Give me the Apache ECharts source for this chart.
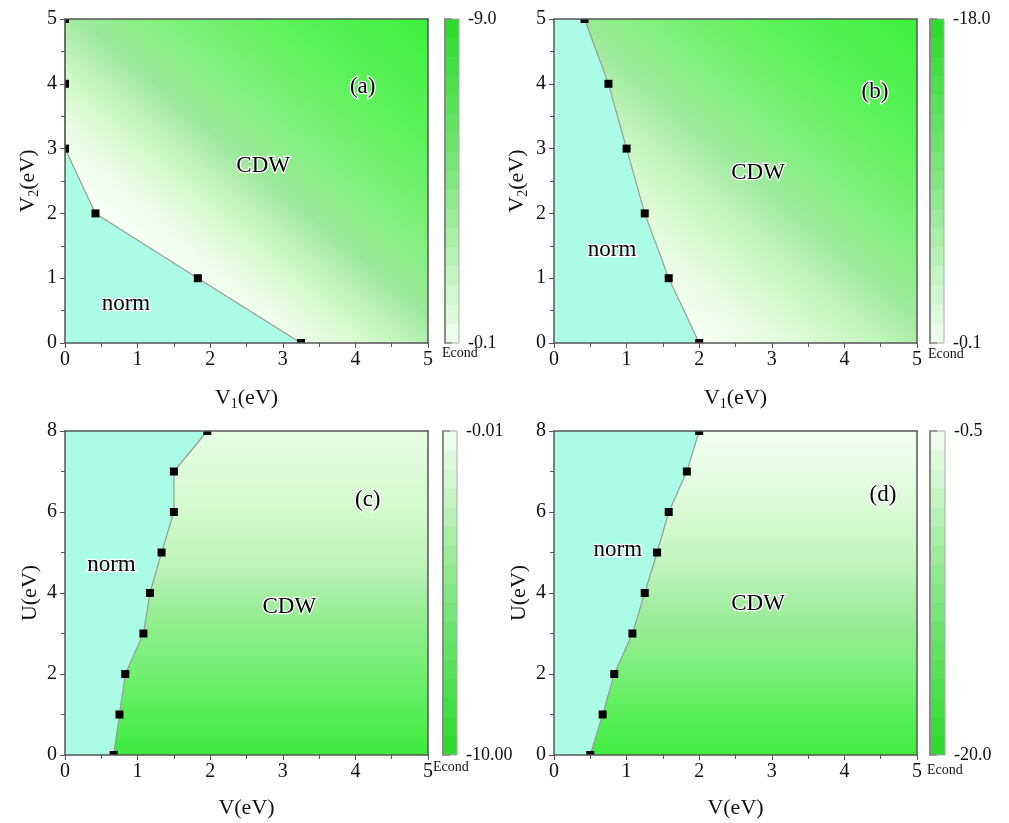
<!DOCTYPE html>
<html><head><meta charset="utf-8">
<script src="https://cdn.jsdelivr.net/npm/echarts@6/dist/echarts.min.js"></script>
<style>html,body{margin:0;padding:0;background:#fff}#c{width:1009px;height:823px}</style>
</head><body><div id="c"></div>
<script>
// ---------- data ----------
const panelTags = ['(a)', '(b)', '(c)', '(d)'];
const xRangeV = [0, 5];
const yRangeV2 = [0, 5];
const yRangeU = [0, 8];
const xTickStep = 1;
const yTickStepV2 = 1;
const yTickStepU = 2;

// phase boundary points (x, y)
const bndA_x = [0, 0, 0, 0.42, 1.83, 3.25];
const bndA_y = [5, 4, 3, 2, 1, 0];
const bndB_x = [0.42, 0.75, 1.0, 1.25, 1.58, 2.0];
const bndB_y = [5, 4, 3, 2, 1, 0];
const bndC_x = [0.67, 0.75, 0.83, 1.08, 1.17, 1.33, 1.5, 1.5, 1.96];
const bndC_y = [0, 1, 2, 3, 4, 5, 6, 7, 8];
const bndD_x = [0.5, 0.67, 0.83, 1.08, 1.25, 1.42, 1.58, 1.83, 2.0];
const bndD_y = [0, 1, 2, 3, 4, 5, 6, 7, 8];

// extra vertices closing the "norm" region
const normCloseA = [[0, 0]];
const normCloseB = [[0, 0], [0, 5]];
const normCloseC = [[0, 8], [0, 0]];
const normCloseD = [[0, 8], [0, 0]];

// colour bar ranges of Econd [min, max]
const econdA = [-9.0, -0.1];
const econdB = [-18.0, -0.1];
const econdC = [-10.00, -0.01];
const econdD = [-20.0, -0.5];
const econdDigits = [1, 1, 2, 1];
const econdLabel = 'Econd';

// region labels [x, y]
const labelCDW = [[2.73, 2.73], [2.81, 2.62], [3.09, 3.65], [2.81, 3.73]];
const labelNorm = [[0.84, 0.6], [0.8, 1.44], [0.64, 4.7], [0.88, 5.06]];
const labelTag = [[4.1, 3.95], [4.42, 3.87], [4.17, 6.3], [4.53, 6.42]];

// ---------- styling / layout ----------
const FONT = 'Liberation Serif';
const W = 363, H = 324;
const layout = [
  {left: 65, top: 19, cbLeft: 445, cbW: 14, econd: [442, 346]},
  {left: 554, top: 19, cbLeft: 930, cbW: 14, econd: [928, 347]},
  {left: 65, top: 431, cbLeft: 443, cbW: 14, econd: [433, 760]},
  {left: 554, top: 431, cbLeft: 930, cbW: 15, econd: [927, 763]}
];
const diagDir = [0, 1, 0.86, -0.136];
const diagStopsA = [[0, '#ffffff'], [0.25, '#f8fff6'], [0.32, '#eefdea'], [0.4, '#d8fad0'], [0.46, '#bff3b8'], [0.53, '#9de89c'], [0.62, '#86f082'], [0.8, '#5cf25a'], [1, '#3cf03c']];
const diagStopsB = [[0, '#ffffff'], [0.2, '#f6fff4'], [0.3, '#e6fce0'], [0.42, '#c8f6c0'], [0.53, '#9eea9c'], [0.63, '#82f07e'], [0.8, '#5af258'], [1, '#3cf03c']];
const vertStopsC = [[0, '#3de83d'], [0.12, '#55ee55'], [0.25, '#70f070'], [0.38, '#8cee8a'], [0.5, '#a6eea4'], [0.58, '#bcf4b6'], [0.75, '#d2f9cc'], [1, '#e6fde2']];
const vertStopsD = [[0, '#40ec40'], [0.12, '#58ee58'], [0.25, '#78f076'], [0.4, '#98ec96'], [0.5, '#acefaa'], [0.62, '#c6f6c2'], [0.78, '#dcfbd8'], [1, '#f0fff0']];

const cbDark = [46, 219, 46], cbMid = [130, 230, 130], cbLight = [234, 253, 232];
function cbColor(t) { // t: 0 = darkest, 1 = lightest
  let a, b, u;
  if (t < 0.5) { a = cbDark; b = cbMid; u = t / 0.5; } else { a = cbMid; b = cbLight; u = (t - 0.5) / 0.5; }
  const c = a.map((v, i) => Math.round(v + (b[i] - v) * u));
  return 'rgb(' + c.join(',') + ')';
}
const mkStops = s => s.map(q => ({offset: q[0], color: q[1]}));

const panels = [
  {bx: bndA_x, by: bndA_y, close: normCloseA, yr: yRangeV2, yStep: yTickStepV2, econd: econdA, inv: true,
   grad: () => new echarts.graphic.LinearGradient(diagDir[0], diagDir[1], diagDir[2], diagDir[3], mkStops(diagStopsA)),
   xName: 'V{s|1}(eV)', yName: 'V{s|2}(eV)'},
  {bx: bndB_x, by: bndB_y, close: normCloseB, yr: yRangeV2, yStep: yTickStepV2, econd: econdB, inv: true,
   grad: () => new echarts.graphic.LinearGradient(diagDir[0], diagDir[1], diagDir[2], diagDir[3], mkStops(diagStopsB)),
   xName: 'V{s|1}(eV)', yName: 'V{s|2}(eV)'},
  {bx: bndC_x, by: bndC_y, close: normCloseC, yr: yRangeU, yStep: yTickStepU, econd: econdC, inv: false,
   grad: () => new echarts.graphic.LinearGradient(0, 1, 0, 0, mkStops(vertStopsC)),
   xName: 'V(eV)', yName: 'U(eV)'},
  {bx: bndD_x, by: bndD_y, close: normCloseD, yr: yRangeU, yStep: yTickStepU, econd: econdD, inv: false,
   grad: () => new echarts.graphic.LinearGradient(0, 1, 0, 0, mkStops(vertStopsD)),
   xName: 'V(eV)', yName: 'U(eV)'}
];

const nameRich = {s: {fontFamily: FONT, fontSize: 14, padding: [12, 0, 0, 0], verticalAlign: 'bottom', color: '#111'}};
const grids = [], xAxes = [], yAxes = [], series = [], graphics = [];

panels.forEach((p, i) => {
  const L = layout[i];
  const gMain = grids.length;
  grids.push({left: L.left, top: L.top, width: W, height: H});
  const gCb = grids.length;
  grids.push({left: L.cbLeft, top: L.top, width: L.cbW, height: H});

  const xi = xAxes.length;
  xAxes.push({
    gridIndex: gMain, type: 'value', min: xRangeV[0], max: xRangeV[1], interval: xTickStep, z: 10,
    axisLine: {show: true, onZero: false, lineStyle: {color: '#555', width: 1.5}},
    axisTick: {show: true, length: 5, lineStyle: {color: '#555'}},
    minorTick: {show: true, splitNumber: 2, length: 4, lineStyle: {color: '#555'}},
    splitLine: {show: false}, minorSplitLine: {show: false},
    axisLabel: {fontFamily: FONT, fontSize: 20, color: '#111', margin: 7},
    name: p.xName, nameLocation: 'middle', nameGap: 42,
    nameTextStyle: {fontFamily: FONT, fontSize: 22, color: '#111', rich: nameRich}
  });
  xAxes.push({gridIndex: gMain, type: 'value', position: 'top', min: xRangeV[0], max: xRangeV[1], z: 10,
    axisLine: {show: true, onZero: false, lineStyle: {color: '#555', width: 1.5}},
    axisTick: {show: false}, axisLabel: {show: false}, splitLine: {show: false}});
  const xcb = xAxes.length;
  xAxes.push({gridIndex: gCb, type: 'value', min: 0, max: 1, show: false});

  const yi = yAxes.length;
  yAxes.push({
    gridIndex: gMain, type: 'value', min: p.yr[0], max: p.yr[1], interval: p.yStep, z: 10,
    axisLine: {show: true, onZero: false, lineStyle: {color: '#555', width: 1.5}},
    axisTick: {show: true, length: 5, lineStyle: {color: '#555'}},
    minorTick: {show: true, splitNumber: 2, length: 4, lineStyle: {color: '#555'}},
    splitLine: {show: false}, minorSplitLine: {show: false},
    axisLabel: {fontFamily: FONT, fontSize: 20, color: '#111', margin: 8},
    name: p.yName, nameLocation: 'middle', nameGap: 24, nameRotate: 90,
    nameTextStyle: {fontFamily: FONT, fontSize: 22, color: '#111', rich: nameRich}
  });
  yAxes.push({gridIndex: gMain, type: 'value', position: 'right', min: p.yr[0], max: p.yr[1], z: 10,
    axisLine: {show: true, onZero: false, lineStyle: {color: '#555', width: 1.5}},
    axisTick: {show: false}, axisLabel: {show: false}, splitLine: {show: false}});
  const ycb = yAxes.length;
  const emin = p.econd[0], emax = p.econd[1];
  yAxes.push({
    gridIndex: gCb, type: 'value', position: 'right', min: emin, max: emax, interval: +(emax - emin).toFixed(4),
    inverse: p.inv, z: 10,
    axisLine: {show: true, lineStyle: {color: '#8a8a8a', width: 2}},
    axisTick: {show: true, length: 7, lineStyle: {color: '#8a8a8a', width: 1.5}},
    splitLine: {show: false},
    axisLabel: {fontFamily: FONT, fontSize: 18, color: '#111', margin: 9,
      formatter: v => (+v).toFixed(econdDigits[i])}
  });

  // CDW field background
  series.push({
    type: 'custom', xAxisIndex: xi, yAxisIndex: yi, z: 1, clip: true, silent: true,
    data: [[xRangeV[0], p.yr[0], xRangeV[1], p.yr[1]]],
    encode: {x: [0, 2], y: [1, 3]},
    renderItem: (params, api) => {
      const a = api.coord([api.value(0), api.value(1)]);
      const b = api.coord([api.value(2), api.value(3)]);
      return {type: 'rect', shape: {x: a[0], y: b[1], width: b[0] - a[0], height: a[1] - b[1]},
        style: {fill: p.grad()}};
    }
  });
  // norm region polygon
  const polyPts = p.bx.map((x, k) => [x, p.by[k]]).concat(p.close);
  series.push({
    type: 'custom', xAxisIndex: xi, yAxisIndex: yi, z: 2, clip: true, silent: true,
    data: polyPts, encode: {x: 0, y: 1},
    renderItem: (params, api) => {
      if (params.dataIndex !== 0) return null;
      return {type: 'polygon', shape: {points: polyPts.map(q => api.coord(q))},
        style: {fill: '#abfde5'}};
    }
  });
  // boundary line
  series.push({
    type: 'line', xAxisIndex: xi, yAxisIndex: yi, z: 3, clip: true, silent: true,
    data: p.bx.map((x, k) => [x, p.by[k]]), showSymbol: false, symbol: 'none',
    lineStyle: {color: '#9a9a9a', width: 1.2}
  });
  // boundary markers
  series.push({
    type: 'custom', xAxisIndex: xi, yAxisIndex: yi, z: 4, clip: true, silent: true,
    data: p.bx.map((x, k) => [x, p.by[k]]), encode: {x: 0, y: 1},
    renderItem: (params, api) => {
      const c = api.coord([api.value(0), api.value(1)]);
      return {type: 'rect', shape: {x: c[0] - 4, y: c[1] - 4, width: 8, height: 8}, style: {fill: '#000'}};
    }
  });
  // region labels
  const labs = [[labelCDW[i], 'CDW'], [labelNorm[i], 'norm'], [labelTag[i], panelTags[i]]];
  series.push({
    type: 'custom', xAxisIndex: xi, yAxisIndex: yi, z: 5, clip: false, silent: true,
    data: labs.map(l => l[0]), encode: {x: 0, y: 1},
    renderItem: (params, api) => {
      const c = api.coord([api.value(0), api.value(1)]);
      return {type: 'text', x: c[0], y: c[1],
        style: {text: labs[params.dataIndex][1], fontFamily: FONT, fontSize: 23, fill: '#000',
          stroke: '#fff', lineWidth: 2.5, align: 'center', verticalAlign: 'middle'}};
    }
  });
  // colour bar bands
  const nb = 17;
  const bands = [];
  for (let k = 0; k < nb; k++) bands.push([emin + (emax - emin) * k / nb, emin + (emax - emin) * (k + 1) / nb, k / (nb - 1)]);
  series.push({
    type: 'custom', xAxisIndex: xcb, yAxisIndex: ycb, z: 1, clip: true, silent: true,
    data: bands.map(b => [0, b[0], 1, b[1]]), encode: {x: [0, 2], y: [1, 3]},
    renderItem: (params, api) => {
      const a = api.coord([0, api.value(1)]);
      const b = api.coord([1, api.value(3)]);
      const t = bands[params.dataIndex][2];
      return {type: 'rect', shape: {x: a[0], y: Math.min(a[1], b[1]) - 0.5, width: b[0] - a[0], height: Math.abs(a[1] - b[1]) + 1},
        style: {fill: cbColor(t)}};
    }
  });
  series.push({
    type: 'custom', xAxisIndex: xcb, yAxisIndex: ycb, z: 2, clip: false, silent: true,
    data: [[0, emin, 1, emax]], encode: {x: [0, 2], y: [1, 3]},
    renderItem: (params, api) => {
      const a = api.coord([0, api.value(1)]);
      const b = api.coord([1, api.value(3)]);
      return {type: 'rect', shape: {x: a[0], y: Math.min(a[1], b[1]), width: b[0] - a[0], height: Math.abs(a[1] - b[1])},
        style: {fill: null, stroke: '#aaaaaa', lineWidth: 1}};
    }
  });
  graphics.push({type: 'text', left: L.econd[0], top: L.econd[1],
    style: {text: econdLabel, fontFamily: FONT, fontSize: 14, fill: '#111'}});
});

const chart = echarts.init(document.getElementById('c'), null, {renderer: 'canvas'});
chart.setOption({
  animation: false,
  backgroundColor: '#fff',
  grid: grids, xAxis: xAxes, yAxis: yAxes, series: series, graphic: graphics
});
</script></body></html>
